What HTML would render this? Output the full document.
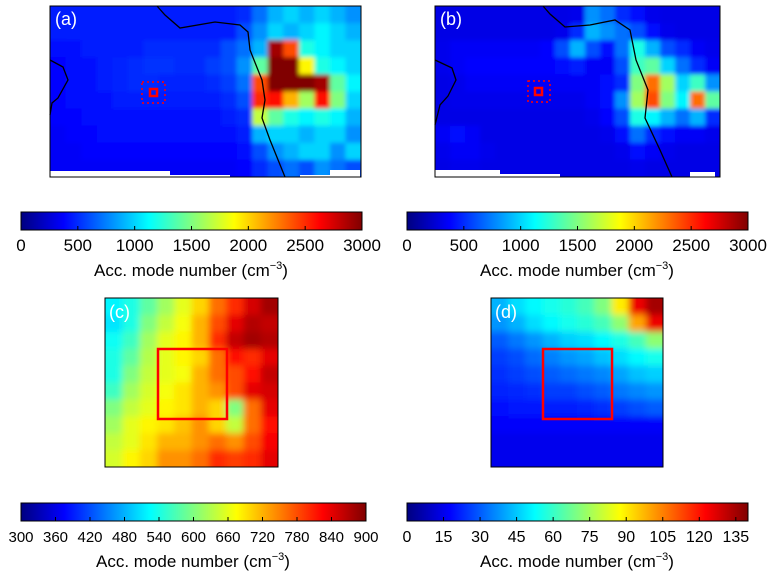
<!DOCTYPE html>
<html><head><meta charset="utf-8">
<style>
body{margin:0;background:#fff;width:775px;height:576px;overflow:hidden;font-family:"Liberation Sans",sans-serif;}
svg text{font-family:"Liberation Sans",sans-serif;}
</style></head>
<body>
<svg id="fig" width="775" height="576" viewBox="0 0 775 576" xmlns="http://www.w3.org/2000/svg">
<defs>
<linearGradient id="jet" x1="0" x2="1" y1="0" y2="0"></linearGradient>
<filter id="soft" x="-5%" y="-5%" width="110%" height="110%"><feGaussianBlur stdDeviation="3.5"/></filter>
<filter id="softS" x="-5%" y="-5%" width="110%" height="110%"><feGaussianBlur stdDeviation="2"/></filter>
<clipPath id="clipA"><rect x="50" y="6" width="311" height="171"/></clipPath>
<clipPath id="clipB"><rect x="435" y="6" width="285" height="171"/></clipPath>
<clipPath id="clipC"><rect x="105" y="298" width="173" height="169"/></clipPath>
<clipPath id="clipD"><rect x="491" y="298" width="172" height="169"/></clipPath>
</defs>
<g id="layer"></g>
</svg>
<script>
// ---- data ----
const panelA=[
[450,450,450,450,450,450,450,450,450,450,450,450,500,700,900,1000,900,1000,900,800],
[450,450,450,450,450,450,450,450,450,450,450,450,600,800,1000,900,1000,1100,1000,900],
[400,420,450,450,450,450,500,500,500,500,500,600,700,900,2900,2400,1200,1100,1000,1000],
[380,400,420,450,480,500,520,520,500,500,550,600,800,1400,3000,3000,1900,1200,1100,1000],
[380,400,420,450,480,500,500,480,480,480,500,550,700,2400,3000,3000,3000,2900,1400,1100],
[380,400,420,420,450,450,450,450,450,450,450,500,600,2500,2600,2100,1600,2600,1500,1000],
[380,380,400,420,420,420,420,420,420,420,420,450,500,1700,1400,1200,1100,1200,1100,900],
[350,380,380,400,400,400,400,400,400,400,400,400,450,900,1000,1000,900,1000,1000,800],
[350,350,380,380,380,380,380,380,380,380,380,380,400,600,800,900,1000,1000,800,1000],
[350,350,350,350,350,350,350,350,350,350,350,350,380,500,600,700,600,800,700,600]];
const panelB=[
[300,300,300,300,300,300,300,300,300,320,800,700,500,400,320,300,300,300,300],
[300,300,300,300,300,300,300,300,320,500,900,800,700,600,400,320,300,300,300],
[320,350,350,350,350,350,350,380,600,900,600,400,700,1200,900,600,500,350,320],
[320,350,380,380,380,380,380,380,400,450,350,350,600,1300,1400,1000,700,500,350],
[300,320,350,350,350,350,350,350,350,350,350,400,500,1500,2300,1600,1000,1300,800],
[300,320,320,320,320,320,320,320,320,320,350,400,800,1600,2400,1500,1100,2300,1400],
[300,300,300,300,300,300,300,300,300,300,320,380,600,1200,1100,900,700,900,500],
[350,400,350,300,300,300,300,300,300,300,300,320,400,700,500,400,350,350,320],
[320,350,350,320,300,300,300,300,300,300,300,300,320,400,350,320,300,300,300],
[300,320,320,300,300,300,300,300,300,300,300,300,300,320,300,300,300,300,300]];
const panelC=[
[520,540,580,620,660,700,760,800,850,880],
[510,540,600,640,670,720,780,840,870,860],
[530,560,620,660,680,720,800,860,880,870],
[540,580,630,660,680,700,760,820,800,840],
[540,600,640,660,670,720,760,780,820,860],
[560,620,650,670,690,720,740,780,840,850],
[600,640,660,680,690,720,700,600,760,840],
[620,660,680,690,710,740,700,640,760,820],
[640,660,690,720,720,740,760,740,780,830],
[650,680,700,740,740,760,800,790,800,840]];
const panelD=[
[42,48,52,55,58,62,70,90,125,135],
[38,42,48,52,55,58,62,72,100,125],
[30,34,38,42,46,48,52,56,62,72],
[26,28,32,35,38,40,44,48,52,55],
[24,26,28,30,32,34,36,40,44,46],
[22,23,24,26,26,28,30,34,36,38],
[19,20,20,21,21,22,24,26,28,30],
[17,17,17,17,17,17,17,17,17,17],
[15,15,15,15,15,15,15,15,15,15],
[15,15,15,15,15,15,15,15,15,15]];
const ticksAB=[0,500,1000,1500,2000,2500,3000];
const ticksC=[300,360,420,480,540,600,660,720,780,840,900];
const ticksD=[0,15,30,45,60,75,90,105,120,135];

const NS="http://www.w3.org/2000/svg";
const layer=document.getElementById('layer');
function mk(tag,attrs,parent){const e=document.createElementNS(NS,tag);for(const k in attrs)e.setAttribute(k,attrs[k]);(parent||layer).appendChild(e);return e;}
function cl(v){return Math.max(0,Math.min(1,v));}
function jet(t){t=cl(t);const r=cl(1.5-Math.abs(4*t-3)),g=cl(1.5-Math.abs(4*t-2)),b=cl(1.5-Math.abs(4*t-1));return `rgb(${Math.round(r*255)},${Math.round(g*255)},${Math.round(b*255)})`;}
const grad=document.getElementById('jet');
for(let i=0;i<=32;i++){mk('stop',{offset:i/32,'stop-color':jet(i/32)},grad);}

function heat(name,grid,x0,y0,w,h,vmin,vmax,clip,filt){
  const outer=mk('g',{'clip-path':'url(#'+clip+')'});
  const g=mk('g',{filter:'url(#'+filt+')'},outer);
  
  
  const rows=grid.length,cols=grid[0].length;
  const xs=c=>x0+c*w/cols, ys=r=>y0+r*h/rows;
  const pad=8;
  grid.forEach((row,r)=>row.forEach((v,c)=>{
    let X=xs(c),Y=ys(r),W=w/cols+0.6,H=h/rows+0.6;
    if(c===0){X-=pad;W+=pad;} if(c===cols-1)W+=pad;
    if(r===0){Y-=pad;H+=pad;} if(r===rows-1)H+=pad;
    const cell=mk('rect',{x:X,y:Y,width:W,height:H,fill:jet((v-vmin)/(vmax-vmin))},g);
    
    
  }));
  return g;
}
function frame(name,x,y,w,h){const f=mk('rect',{x:x,y:y,width:w,height:h,fill:'none',stroke:'#000','stroke-width':1});}
function label(name,txt,x,y){const t=mk('text',{x:x,y:y,fill:'#fff','font-size':18});t.textContent=txt;}
function poly(name,pts,attrs){const p=mk('polyline',Object.assign({points:pts,fill:'none'},attrs));}
function cbar(name,x,y,w,ticks,vmin,vmax,cx,fs){
  const g=mk('g',{});
  
  
  mk('rect',{x:x,y:y,width:w,height:18,fill:'url(#jet)',stroke:'#000','stroke-width':1},g);
  const sx=v=>x+(v-vmin)/(vmax-vmin)*w;
  ticks.forEach(v=>{
    const X=sx(v);
    if(v>vmin&&v<vmax) mk('line',{x1:X,x2:X,y1:y+18,y2:y+14,stroke:'#000','stroke-width':1},g);
    const t=mk('text',{x:X,y:y+39,'text-anchor':'middle','font-size':fs,fill:'#000'},g);
    t.textContent=v;
    
    
  });
  const tt=mk('text',{x:cx,y:y+64,'text-anchor':'middle','font-size':17,fill:'#000'},g);
  tt.innerHTML='Acc. mode number (cm<tspan dy="-7" font-size="11">−3</tspan><tspan dy="7">)</tspan>';
  
  
}

// panel a
heat('panel-a-map',panelA,50,6,311,171,0,3000,'clipA','softS');
mk('polygon',{points:'50,171 170,171 170,175 230,175 230,177 50,177',fill:'#fff'});
mk('polygon',{points:'300,175 330,175 330,170 360,170 360,177 300,177',fill:'#fff'});
poly('panel-a-coastline','157,6 165,15 180,28 215,22 240,25 248,32 250,50 262,80 265,100 262,118 270,140 285,177',{stroke:'#000','stroke-width':1.3});
poly('panel-a-coastline-west','50,60 63,67 68,80 58,98 52,103 50,115',{stroke:'#000','stroke-width':1.3});
mk('rect',{x:150,y:89,width:7,height:7,fill:'none',stroke:'#f00','stroke-width':2.5});
mk('rect',{x:142,y:82,width:23,height:21,fill:'none',stroke:'#f00','stroke-width':1.5,'stroke-dasharray':'2,3'});
frame('panel-a-frame',50,6,311,171);
label('panel-a-label','(a)',55,25);

// panel b
heat('panel-b-map',panelB,435,6,285,171,0,3000,'clipB','softS');
mk('polygon',{points:'435,170 500,170 500,174 560,174 560,177 435,177',fill:'#fff'});
mk('polygon',{points:'690,172 715,172 715,177 690,177',fill:'#fff'});
poly('panel-b-coastline','543,6 550,14 565,27 590,25 615,20 630,30 636,60 648,90 645,118 660,150 672,177',{stroke:'#000','stroke-width':1.3});
poly('panel-b-coastline-west','435,60 452,68 456,80 448,96 440,105 435,125',{stroke:'#000','stroke-width':1.3});
mk('rect',{x:535,y:88,width:7,height:7,fill:'none',stroke:'#f00','stroke-width':2.5});
mk('rect',{x:528,y:81,width:22,height:21,fill:'none',stroke:'#f00','stroke-width':1.5,'stroke-dasharray':'2,3'});
frame('panel-b-frame',435,6,285,171);
label('panel-b-label','(b)',440,25);

// panel c
heat('panel-c-map',panelC,105,298,173,169,300,900,'clipC','soft');
mk('rect',{x:158,y:349,width:69,height:70,fill:'none',stroke:'#f00','stroke-width':2.5});
frame('panel-c-frame',105,298,173,169);
label('panel-c-label','(c)',109,318);

// panel d
heat('panel-d-map',panelD,491,298,172,169,0,140,'clipD','soft');
mk('rect',{x:543,y:349,width:69,height:70,fill:'none',stroke:'#f00','stroke-width':2.5});
frame('panel-d-frame',491,298,172,169);
label('panel-d-label','(d)',495,318);

cbar('colorbar-a',21,212,341,ticksAB,0,3000,191,17);
cbar('colorbar-b',407,212,341,ticksAB,0,3000,577,17);
cbar('colorbar-c',21,503,345,ticksC,300,900,193,15);
cbar('colorbar-d',407,503,341,ticksD,0,140,577,16);
</script>
</body></html>
